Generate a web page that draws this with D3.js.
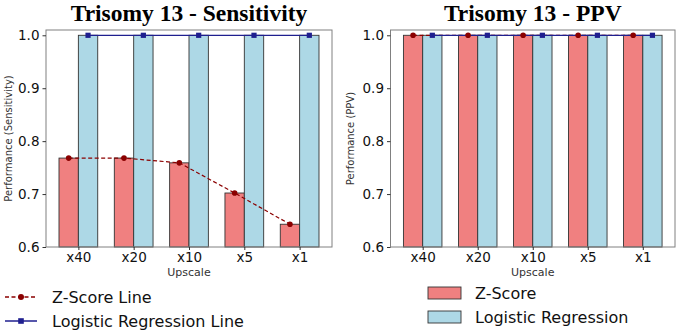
<!DOCTYPE html>
<html>
<head>
<meta charset="utf-8">
<script src="https://cdn.jsdelivr.net/npm/d3@7"></script>
<style>
  body { margin: 0; background: #fff; }
  svg { display: block; }
</style>
</head>
<body>
<svg id="chart" width="680" height="333"></svg>
<script>
// data
const upscales = ["x40", "x20", "x10", "x5", "x1"];
const sensZScore = [0.768, 0.768, 0.759, 0.702, 0.643];
const sensLogReg = [1.0, 1.0, 1.0, 1.0, 1.0];
const ppvZScore = [1.0, 1.0, 1.0, 1.0, 1.0];
const ppvLogReg = [1.0, 1.0, 1.0, 1.0, 1.0];
const yTicks = [0.6, 0.7, 0.8, 0.9, 1.0];

const RED = "#f08080", BLUE = "#add8e6";
const LINE_RED = "#8b0000", LINE_BLUE = "#1f1f8f";
const svg = d3.select("#chart");
const W = 0.35;

function panel(opts) {
    let g = svg.append("g");
    let x = d3.scaleLinear().domain([-0.585, 4.585]).range([opts.left, opts.right]);
    let y = d3.scaleLinear().domain([0.6, 1.01]).range([247, 30]);

    // bars
    g.selectAll("rect.z")
        .data(opts.z)
        .enter().append("rect")
        .attr("x", (d, i) => x(i - W))
        .attr("width", (d, i) => x(i) - x(i - W))
        .attr("y", d => y(d))
        .attr("height", d => y(0.6) - y(d))
        .attr("fill", RED).attr("stroke", "#333").attr("stroke-width", 0.9);
    g.selectAll("rect.l")
        .data(opts.l)
        .enter().append("rect")
        .attr("x", (d, i) => x(i))
        .attr("width", (d, i) => x(i + W) - x(i))
        .attr("y", d => y(d))
        .attr("height", d => y(0.6) - y(d))
        .attr("fill", BLUE).attr("stroke", "#333").attr("stroke-width", 0.9);

    // lines
    let zLine = d3.line().x((d, i) => x(i - W / 2)).y(d => y(d));
    let lLine = d3.line().x((d, i) => x(i + W / 2)).y(d => y(d));
    g.append("path").datum(opts.z).attr("d", zLine)
        .attr("fill", "none").attr("stroke", LINE_RED).attr("stroke-width", 1.2)
        .attr("stroke-dasharray", "4,2.5");
    g.append("path").datum(opts.l).attr("d", lLine)
        .attr("fill", "none").attr("stroke", LINE_BLUE).attr("stroke-width", 1.2);
    g.selectAll("circle.m")
        .data(opts.z)
        .enter().append("circle")
        .attr("cx", (d, i) => x(i - W / 2)).attr("cy", d => y(d)).attr("r", 2.8)
        .attr("fill", LINE_RED);
    g.selectAll("rect.m")
        .data(opts.l)
        .enter().append("rect")
        .attr("x", (d, i) => x(i + W / 2) - 2.6).attr("y", d => y(d) - 2.6)
        .attr("width", 5.2).attr("height", 5.2)
        .attr("fill", LINE_BLUE);

    // frame
    g.append("rect")
        .attr("x", opts.left).attr("y", 30)
        .attr("width", opts.right - opts.left).attr("height", 217)
        .attr("fill", "none").attr("stroke", "#808080").attr("stroke-width", 1);

    // axes
    let yAxis = g.append("g").attr("transform", `translate(${opts.left},0)`)
        .call(d3.axisLeft(y).tickValues(yTicks).tickFormat(d3.format(".1f")).tickSize(3.5).tickPadding(3));
    let xAxis = g.append("g").attr("transform", "translate(0,247)")
        .call(d3.axisBottom(x).tickValues(d3.range(upscales.length)).tickFormat(i => upscales[i]).tickSize(3).tickPadding(2));
    [yAxis, xAxis].forEach(a => {
        a.select(".domain").remove();
        a.selectAll("line").attr("stroke", "#333");
        a.selectAll("text").attr("fill", "#111")
            .style("font-family", "DejaVu Sans").style("font-size", "13.5px");
    });

    g.append("text")
        .attr("x", (opts.left + opts.right) / 2).attr("y", 276)
        .attr("text-anchor", "middle")
        .style("font-family", "DejaVu Sans").style("font-size", "11px").attr("fill", "#333")
        .text("Upscale");
    g.append("text")
        .attr("transform", `translate(${opts.ylabX},${(30 + 247) / 2}) rotate(-90)`)
        .attr("text-anchor", "middle").attr("dy", "0.35em")
        .style("font-family", "DejaVu Sans").style("font-size", "10px").attr("fill", "#333")
        .text(opts.ylabel);
    g.append("text")
        .attr("x", (opts.left + opts.right) / 2).attr("y", 21)
        .attr("text-anchor", "middle")
        .style("font-family", "Liberation Serif").style("font-weight", "bold").style("font-size", "23.5px")
        .text(opts.title);
}

panel({left: 46, right: 332, z: sensZScore, l: sensLogReg, ylabX: 8,
    title: "Trisomy 13 - Sensitivity", ylabel: "Performance (Sensitivity)"});
panel({left: 390.5, right: 675, z: ppvZScore, l: ppvLogReg, ylabX: 350,
    title: "Trisomy 13 - PPV", ylabel: "Performance (PPV)"});

// legend left (lines)
let lg = svg.append("g").style("font-family", "DejaVu Sans").style("font-size", "16px");
let lineItems = [
    {label: "Z-Score Line", color: LINE_RED, dash: "4,2.5", marker: "circle", y: 297},
    {label: "Logistic Regression Line", color: LINE_BLUE, dash: null, marker: "square", y: 321}
];
lineItems.forEach(it => {
    lg.append("line").attr("x1", 5).attr("x2", 37).attr("y1", it.y).attr("y2", it.y)
        .attr("stroke", it.color).attr("stroke-width", 1.5).attr("stroke-dasharray", it.dash);
    if (it.marker === "circle")
        lg.append("circle").attr("cx", 21).attr("cy", it.y).attr("r", 3).attr("fill", it.color);
    else
        lg.append("rect").attr("x", 18.2).attr("y", it.y - 2.8).attr("width", 5.6).attr("height", 5.6).attr("fill", it.color);
    lg.append("text").attr("x", 52).attr("y", it.y).attr("dy", "0.36em").attr("fill", "#111").text(it.label);
});

// legend right (patches)
let rg = svg.append("g").style("font-family", "DejaVu Sans").style("font-size", "16px");
let patchItems = [
    {label: "Z-Score", color: RED, y: 293},
    {label: "Logistic Regression", color: BLUE, y: 317}
];
patchItems.forEach(it => {
    rg.append("rect").attr("x", 428).attr("y", it.y - 6).attr("width", 33).attr("height", 12)
        .attr("fill", it.color).attr("stroke", "#333").attr("stroke-width", 0.9);
    rg.append("text").attr("x", 475).attr("y", it.y).attr("dy", "0.36em").attr("fill", "#111").text(it.label);
});
</script>
</body>
</html>
